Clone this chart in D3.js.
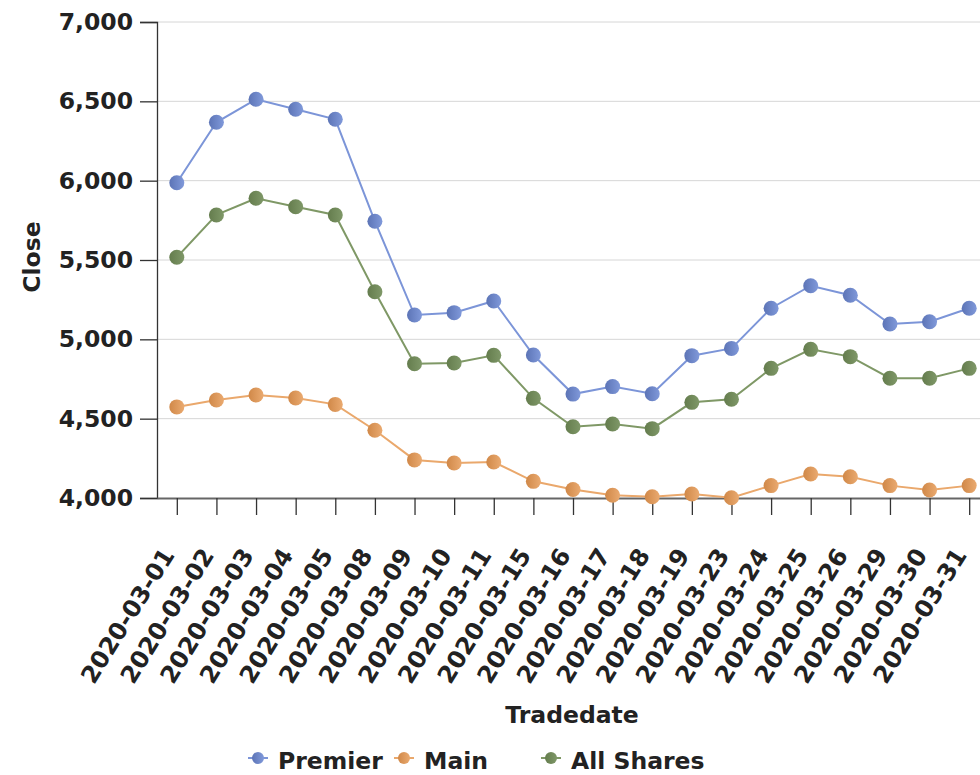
<!DOCTYPE html>
<html>
<head>
<meta charset="utf-8">
<script src="https://cdn.jsdelivr.net/npm/d3@7"></script>
<style>
  body { margin: 0; background: #fff; }
  svg { display: block; }
  svg text { font-family: "DejaVu Sans", Verdana, sans-serif; }
</style>
</head>
<body>
<div id="chart"></div>
<script>
// Data
const tradedates = ["2020-03-01", "2020-03-02", "2020-03-03", "2020-03-04", "2020-03-05",
    "2020-03-08", "2020-03-09", "2020-03-10", "2020-03-11", "2020-03-15", "2020-03-16",
    "2020-03-17", "2020-03-18", "2020-03-19", "2020-03-23", "2020-03-24", "2020-03-25",
    "2020-03-26", "2020-03-29", "2020-03-30", "2020-03-31"];
const premier = [5987, 6368, 6513, 6450, 6387, 5744, 5153, 5168, 5242, 4901, 4655,
    4702, 4657, 4897, 4943, 5196, 5338, 5278, 5097, 5111, 5196];
const main = [4574, 4618, 4649, 4630, 4590, 4427, 4240, 4221, 4227, 4105, 4054,
    4017, 4008, 4025, 4002, 4078, 4151, 4134, 4078, 4050, 4078];
const allShares = [5517, 5784, 5889, 5836, 5784, 5300, 4846, 4851, 4899, 4628, 4449,
    4466, 4437, 4603, 4622, 4817, 4937, 4891, 4755, 4755, 4817];
const yTicks = [4000, 4500, 5000, 5500, 6000, 6500, 7000];

const seriesList = [
    { name: "Premier", values: premier, line: "#7c95d8", dark: "#5c74b6", light: "#8099da", lx: 258 },
    { name: "Main", values: main, line: "#eaa86c", dark: "#d08848", light: "#eaaa70", lx: 404 },
    { name: "All Shares", values: allShares, line: "#7f9866", dark: "#647c4d", light: "#7f9868", lx: 551 }
];

const width = 980, height = 775;
const plotLeft = 157, plotRight = 989, plotTop = 22, plotBottom = 498;
const fontSize = "23.5px";

const svg = d3.select("#chart").append("svg")
    .attr("width", width)
    .attr("height", height);

const defs = svg.append("defs");
seriesList.forEach((s, i) => {
    const g = defs.append("linearGradient")
        .attr("id", "marker-grad-" + i)
        .attr("x1", "0%").attr("y1", "0%")
        .attr("x2", "100%").attr("y2", "0%");
    g.append("stop").attr("offset", "0%").attr("stop-color", s.dark);
    g.append("stop").attr("offset", "100%").attr("stop-color", s.light);
});

const x = d3.scalePoint()
    .domain(tradedates)
    .range([plotLeft, plotRight])
    .padding(0.5);

const y = d3.scaleLinear()
    .domain([4000, 7000])
    .range([plotBottom, plotTop]);

// gridlines
svg.append("g")
    .selectAll("line")
    .data(yTicks.slice(1))
    .enter().append("line")
    .attr("x1", plotLeft).attr("x2", plotRight)
    .attr("y1", d => y(d)).attr("y2", d => y(d))
    .attr("stroke", "#d6d6d6")
    .attr("stroke-width", 1);

// y axis
const yAxis = svg.append("g")
    .attr("transform", `translate(${plotLeft},0)`)
    .call(d3.axisLeft(y).tickValues(yTicks).tickFormat(d3.format(",")).tickSize(17).tickPadding(7));
yAxis.attr("font-family", null);
yAxis.select(".domain").attr("stroke", "#333").attr("stroke-width", 1.3);
yAxis.selectAll(".tick line").attr("stroke", "#333").attr("stroke-width", 1.3);
yAxis.selectAll("text")
    .attr("font-size", fontSize)
    .attr("font-weight", "bold")
    .attr("fill", "#222");

// x axis
const xAxis = svg.append("g")
    .attr("transform", `translate(0,${plotBottom})`)
    .call(d3.axisBottom(x).tickSize(17).tickSizeOuter(0));
xAxis.attr("font-family", null);
xAxis.select(".domain").attr("stroke", "#666").attr("stroke-width", 2);
xAxis.selectAll(".tick line").attr("stroke", "#333").attr("stroke-width", 1.3);
xAxis.selectAll("text")
    .attr("font-size", "24px")
    .attr("font-weight", "bold")
    .attr("fill", "#222")
    .attr("text-anchor", "end")
    .attr("x", 0)
    .attr("y", 0)
    .attr("dy", 0)
    .attr("transform", "translate(-2,57) rotate(-58)");

// axis titles
svg.append("text")
    .attr("x", (plotLeft + plotRight) / 2 - 1)
    .attr("y", 723)
    .attr("text-anchor", "middle")
    .attr("font-size", fontSize)
    .attr("font-weight", "bold")
    .attr("fill", "#222")
    .text("Tradedate");

svg.append("text")
    .attr("transform", `translate(40,${(plotTop + plotBottom) / 2 - 3}) rotate(-90)`)
    .attr("text-anchor", "middle")
    .attr("font-size", fontSize)
    .attr("font-weight", "bold")
    .attr("fill", "#222")
    .text("Close");

// lines and markers
const line = d3.line()
    .x((d, i) => x(tradedates[i]))
    .y(d => y(d));

seriesList.forEach((s, i) => {
    svg.append("path")
        .datum(s.values)
        .attr("fill", "none")
        .attr("stroke", s.line)
        .attr("stroke-width", 2)
        .attr("d", line);

    svg.append("g")
        .selectAll("circle")
        .data(s.values)
        .enter().append("circle")
        .attr("cx", (d, j) => x(tradedates[j]))
        .attr("cy", d => y(d))
        .attr("r", 7.5)
        .attr("fill", `url(#marker-grad-${i})`);
});

// legend
const legend = svg.append("g");
seriesList.forEach((s, i) => {
    const g = legend.append("g").attr("transform", `translate(${s.lx},758)`);
    g.append("line")
        .attr("x1", -10).attr("x2", 10)
        .attr("stroke", s.line)
        .attr("stroke-width", 2);
    g.append("circle")
        .attr("r", 6)
        .attr("fill", `url(#marker-grad-${i})`);
    g.append("text")
        .attr("x", 20)
        .attr("y", 11)
        .attr("font-size", fontSize)
        .attr("font-weight", "bold")
        .attr("fill", "#222")
        .text(s.name);
});
</script>
</body>
</html>
